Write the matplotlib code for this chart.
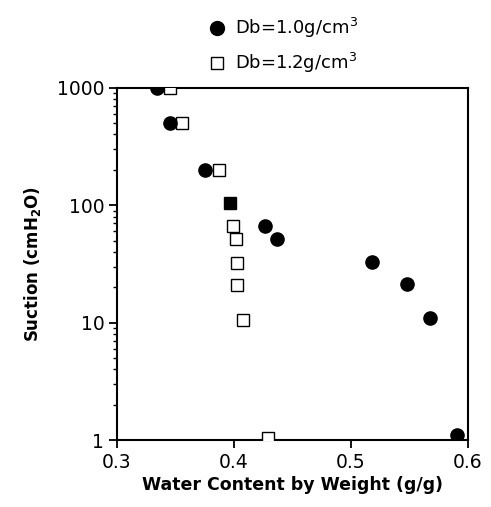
import matplotlib
matplotlib.use("Agg")
import matplotlib.pyplot as plt
from matplotlib.lines import Line2D

# Db = 1.0 g/cm3 (filled circles)
wc_10 = [0.334, 0.345, 0.375, 0.4265, 0.4365, 0.518, 0.548, 0.568, 0.591]
suction_10 = [1000, 500, 200, 66, 52, 33, 21.5, 11, 1.1]

# Db = 1.2 g/cm3 (open squares)
wc_12 = [0.345, 0.356, 0.387, 0.399, 0.402, 0.403, 0.403, 0.408, 0.429]
suction_12 = [1000, 500, 200, 66, 52, 32, 21, 10.5, 1.05]

# both series overlap here -> drawn as a solid square
wc_both = [0.397]
suction_both = [104]

fig = plt.figure(figsize=(4.91, 5.07), dpi=100)
ax = fig.add_axes([0.238, 0.132, 0.715, 0.695])

ax.plot(wc_12, suction_12, linestyle="none", marker="s", markersize=8,
        markerfacecolor="white", markeredgecolor="black", markeredgewidth=1.0, zorder=3)
ax.plot(wc_10, suction_10, linestyle="none", marker="o", markersize=9.5,
        color="black", zorder=4)
ax.plot(wc_both, suction_both, linestyle="none", marker="s", markersize=8,
        color="black", zorder=4)

ax.set_yscale("log")
ax.set_xlim(0.3, 0.6)
ax.set_ylim(1, 1000)
ax.set_xticks([0.3, 0.4, 0.5, 0.6])
ax.set_xticklabels(["0.3", "0.4", "0.5", "0.6"])
ax.set_yticks([1, 10, 100, 1000])
ax.set_yticklabels(["1", "10", "100", "1000"])

for s in ax.spines.values():
    s.set_linewidth(1.5)
ax.tick_params(axis="both", which="major", direction="out", length=6, width=1.3,
               labelsize=13.5, pad=3)
ax.tick_params(axis="y", which="minor", direction="out", length=3, width=1)
ax.set_xlabel("Water Content by Weight (g/g)", fontsize=12.5, fontweight="bold",
              labelpad=3)
ax.set_ylabel("Suction (cmH$_{\\bf 2}$O)", fontsize=12, fontweight="bold", labelpad=10)

handles = [
    Line2D([], [], linestyle="none", marker="o", markersize=10, color="black"),
    Line2D([], [], linestyle="none", marker="s", markersize=8,
           markerfacecolor="white", markeredgecolor="black"),
]
labels = ["Db=1.0g/cm$^3$", "Db=1.2g/cm$^3$"]
fig.legend(handles, labels, loc="upper left", bbox_to_anchor=(0.39, 1.0),
           frameon=False, fontsize=13, handletextpad=0.5, labelspacing=0.6,
           handlelength=1.0)

fig.savefig("out.png", dpi=100)
